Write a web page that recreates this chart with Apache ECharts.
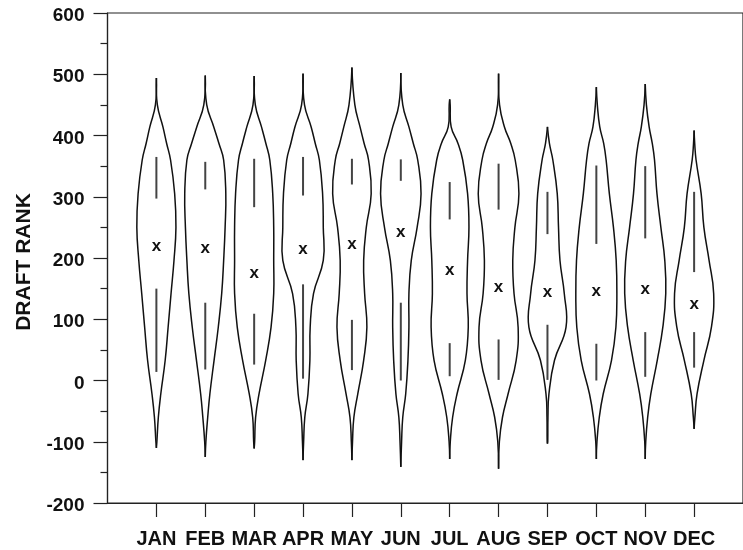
<!DOCTYPE html>
<html>
<head>
<meta charset="utf-8">
<title>Draft rank by birth month</title>
<script src="https://cdn.jsdelivr.net/npm/echarts@6/dist/echarts.min.js"></script>
<style>
  html, body { margin: 0; padding: 0; background: #fff; }
  #chart { width: 743px; height: 550px; }
</style>
</head>
<body>
<div id="chart"></div>
<script>
// Birth months along the x axis
const months = ['JAN', 'FEB', 'MAR', 'APR', 'MAY', 'JUN', 'JUL', 'AUG', 'SEP', 'OCT', 'NOV', 'DEC'];

// Median draft rank per month (drawn as an "x")
const medians = [218, 215, 174, 212, 220, 240, 178, 150, 143, 144, 147, 122];

// Upper whisker segment [from, to] and lower whisker segment [from, to]
const upperSegments = [[297, 365], [312, 357], [283, 362], [302, 365], [320, 362], [326, 361],
                       [263, 324], [279, 354], [239, 308], [223, 351], [232, 350], [177, 308]];
const lowerSegments = [[14, 150], [18, 127], [26, 109], [3, 157], [17, 99], [0, 127],
                       [7, 61], [1, 67], [1, 91], [0, 60], [6, 79], [21, 79]];

// Extent of each violin's tails
const tailMin = [-110, -125, -111, -130, -130, -141, -128, -144, -103, -128, -128, -79];
const tailMax = [494, 498, 497, 501, 511, 502, 459, 501, 414, 479, 484, 408];

// Draft-rank levels at which the kernel density was sampled
const densityLevels = [-100, -60, -22, 33, 87, 142, 196, 250, 305, 360, 387, 414, 450];

// Density (arbitrary units, peak around 21) at each level, one row per month
const densityByMonth = [
  [0.5, 2.0, 4.5, 9.0, 12.0, 15.0, 18.0, 20.0, 18.7, 14.5, 10.5, 6.7, 1.0],
  [0.6, 2.5, 4.7, 9.0, 13.3, 16.8, 18.8, 20.3, 21.0, 18.8, 14.0, 8.7, 1.5],
  [0.5, 1.5, 5.0, 11.8, 17.3, 20.0, 20.0, 20.0, 19.0, 16.0, 12.0, 7.5, 1.2],
  [0.6, 1.8, 5.0, 7.0, 7.3, 10.7, 20.7, 20.7, 20.0, 16.7, 12.5, 8.3, 1.5],
  [0.6, 2.0, 6.0, 12.0, 15.3, 13.0, 12.0, 14.7, 19.7, 17.0, 12.5, 8.3, 3.0],
  [0.8, 2.0, 5.0, 7.3, 8.3, 8.3, 10.7, 16.7, 20.7, 17.3, 12.8, 8.3, 2.0],
  [0.6, 3.0, 7.5, 16.0, 19.0, 17.7, 18.3, 19.7, 18.3, 13.3, 8.5, 1.5, 0.5],
  [0.8, 4.0, 9.7, 18.0, 20.0, 15.8, 14.5, 16.7, 20.8, 17.0, 12.5, 6.0, 1.0],
  [0.3, 0.5, 1.5, 7.2, 19.0, 17.2, 12.8, 11.3, 10.0, 5.5, 2.0, 0, 0],
  [0.6, 3.0, 7.0, 15.5, 20.0, 21.0, 20.3, 17.5, 13.3, 10.0, 7.5, 3.5, 1.0],
  [0.5, 2.5, 5.7, 12.3, 18.0, 21.0, 20.0, 16.0, 12.0, 9.5, 7.2, 4.0, 1.2],
  [0, 0.8, 3.0, 10.0, 17.7, 20.0, 15.3, 10.0, 7.2, 2.0, 0.6, 0, 0]
];

// Y axis ticks
const yMin = -200, yMax = 600, yStep = 100;

// Half-width (in x-axis units) that a density of DENSITY_REF maps to
const DENSITY_REF = 21;
const HALF_WIDTH = 0.42;

const FONT = '"Liberation Sans", Arial, Helvetica, sans-serif';
const INK = '#111';

function renderViolin(params, api) {
  const k = params.dataIndex;
  const xc = api.value(0);
  const lo = tailMin[k], hi = tailMax[k];

  // Outline profile: tail tip, sampled levels inside the tails, tail tip
  const profile = [[lo, 0]];
  densityLevels.forEach((lvl, j) => {
    if (lvl > lo && lvl < hi) profile.push([lvl, densityByMonth[k][j]]);
  });
  profile.push([hi, 0]);

  const left = profile.map(([v, d]) => api.coord([xc - d / DENSITY_REF * HALF_WIDTH, v]));
  const right = profile.map(([v, d]) => api.coord([xc + d / DENSITY_REF * HALF_WIDTH, v]));

  const outlineStyle = { stroke: INK, lineWidth: 1.5, fill: null };
  const whiskerStyle = { stroke: '#444', lineWidth: 2 };

  const seg = (a, b) => {
    const p1 = api.coord([xc, a]);
    const p2 = api.coord([xc, b]);
    return { type: 'line', shape: { x1: p1[0], y1: p1[1], x2: p2[0], y2: p2[1] }, style: whiskerStyle };
  };

  const mid = api.coord([xc, medians[k]]);

  return {
    type: 'group',
    children: [
      { type: 'polyline', shape: { points: left, smooth: 0.45 }, style: outlineStyle },
      { type: 'polyline', shape: { points: right, smooth: 0.45 }, style: outlineStyle },
      seg(upperSegments[k][0], upperSegments[k][1]),
      seg(lowerSegments[k][0], lowerSegments[k][1]),
      {
        type: 'text',
        x: mid[0], y: mid[1] - 1,
        style: {
          text: 'x', fill: INK, font: 'bold 17px ' + FONT,
          align: 'center', verticalAlign: 'middle'
        }
      }
    ]
  };
}

const monthPositions = months.map((m, i) => i + 1);

const chart = echarts.init(document.getElementById('chart'), null, { renderer: 'canvas' });

chart.setOption({
  backgroundColor: '#fff',
  animation: false,
  grid: {
    left: 107.5, top: 13, bottom: 47, right: -10,
    show: true, borderColor: '#222', borderWidth: 1.2, backgroundColor: 'transparent'
  },
  xAxis: {
    type: 'value',
    min: 0, max: 13, interval: 1,
    axisLine: { show: true, onZero: false, lineStyle: { color: '#222', width: 1.2 } },
    axisTick: { show: true, customValues: monthPositions, length: 14, lineStyle: { color: '#222', width: 1.2 } },
    axisLabel: {
      show: true, customValues: monthPositions,
      formatter: v => months[v - 1] || '',
      margin: 26, color: INK, fontFamily: FONT, fontWeight: 'bold', fontSize: 20
    },
    splitLine: { show: false }
  },
  yAxis: {
    type: 'value',
    min: yMin, max: yMax, interval: yStep,
    name: 'DRAFT RANK',
    nameLocation: 'middle',
    nameGap: 73,
    nameRotate: 90,
    nameTextStyle: {
      color: INK, fontFamily: FONT, fontWeight: 'bold', fontSize: 21,
      padding: [0, 8, 0, 0]
    },
    axisLine: { show: true, lineStyle: { color: '#222', width: 1.2 } },
    axisTick: { show: true, length: 14, lineStyle: { color: '#222', width: 1.2 } },
    minorTick: { show: true, splitNumber: 2, length: 7, lineStyle: { color: '#222', width: 1.2 } },
    axisLabel: {
      margin: 23,
      formatter: v => '{v|' + v + '}',
      rich: {
        v: {
          color: INK, fontFamily: FONT, fontWeight: 'bold', fontSize: 19,
          padding: [6, 0, 0, 0]
        }
      }
    },
    splitLine: { show: false },
    minorSplitLine: { show: false }
  },
  series: [{
    type: 'custom',
    renderItem: renderViolin,
    encode: { x: 0, y: 1 },
    data: monthPositions.map((x, i) => [x, medians[i]]),
    clip: false
  }]
});
</script>
</body>
</html>
